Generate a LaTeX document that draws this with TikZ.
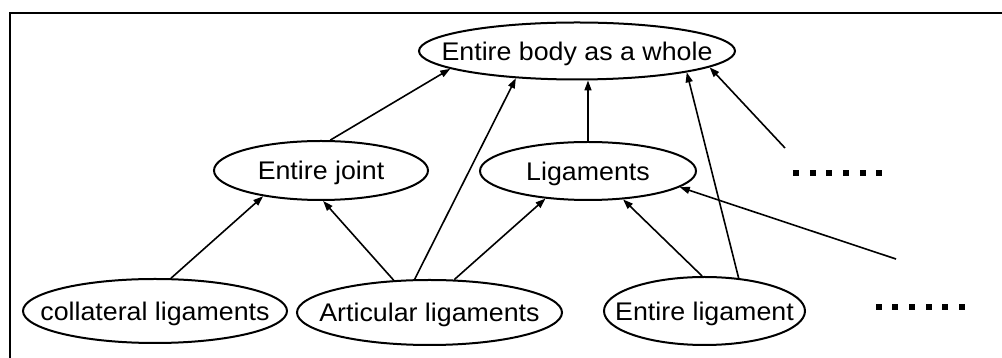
\documentclass[tikz,border=0pt]{standalone}
\usepackage{fontspec}
\setmainfont{Liberation Sans}[FakeStretch=1.05]
\usetikzlibrary{arrows.meta,shapes.geometric}

\begin{document}
\begin{tikzpicture}[x=1pt,y=1pt,
  concept/.style={draw, line width=2pt, ellipse, inner sep=0pt,
    font=\fontsize{25.5}{30}\selectfont, text height=18.3pt, text depth=0pt},
  link/.style={line width=1.6pt, -{Triangle[length=10pt,width=7pt]}}]
  \useasboundingbox (0,0) rectangle (1002,358);
  \clip (0,0) rectangle (1002,358);

  % outer frame (runs past the right and bottom edges)
  \draw[line width=2.2pt] (10,-20) rectangle (1030,345);

  % concept ellipses
  \node[concept, minimum width=316pt, minimum height=57pt] (body) at (577,307) {\makebox[0pt]{Entire body as a whole}};
  \node[concept, minimum width=214pt, minimum height=59pt] (joint) at (321,187.5) {\makebox[0pt]{Entire joint}};
  \node[concept, minimum width=216pt, minimum height=58pt] (lig) at (588,187) {\makebox[0pt]{Ligaments}};
  \node[concept, minimum width=264pt, minimum height=64pt] (coll) at (155,47) {\makebox[0pt]{collateral ligaments}};
  \node[concept, minimum width=265pt, minimum height=65pt] (art) at (429.5,45.5) {\makebox[0pt]{Articular ligaments}};
  \node[concept, minimum width=201pt, minimum height=68pt] (entlig) at (704.5,47) {\makebox[0pt]{Entire ligament}};

  % loose ends of the two open connectors
  \coordinate (free1) at (785,210);
  \coordinate (free2) at (896,99);

  % connectors into the top concept
  \draw[link] (joint.73) -- (body.188.6);
  \draw[link] (art.114.2) -- (body.204.1);
  \draw[link] (lig.north) -- (lig.north |- body.south);
  \draw[link] (entlig.44.7) -- (body.349.3);
  \draw[link] (free1) -- (body.353.1);

  % connectors into the middle row
  \draw[link] (coll.64.7) -- (joint.204.7);
  \draw[link] (art.138.6) -- (joint.274);
  \draw[link] (art.53.7) -- (lig.213.9);
  \draw[link] (entlig.94) -- (lig.321);
  \draw[link] (free2) -- (lig.350.3);

  % continuation marks
  \foreach \i in {0,...,5} {
    \fill (796+16.67*\i-3,185.3-3) rectangle ++(6,6);
    \fill (878.5+16.67*\i-3,51.3-3) rectangle ++(6,6);
  }
\end{tikzpicture}
\end{document}
